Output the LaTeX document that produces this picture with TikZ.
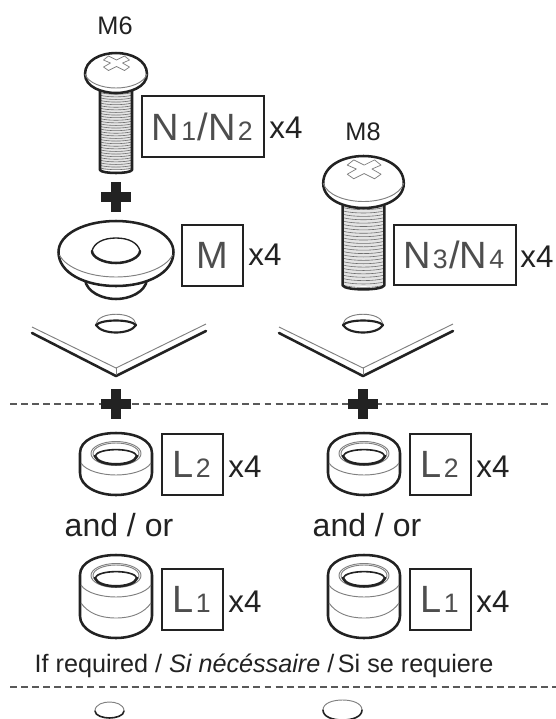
\documentclass[tikz,border=0pt]{standalone}
\usepackage{fontspec}
\setmainfont{Liberation Sans}
\definecolor{ink}{HTML}{222222}
\definecolor{thin}{HTML}{808080}
\newcommand{\fsz}[1]{\fontsize{#1}{#1}\selectfont}
\newcommand{\sublab}[1]{\kern1.6pt{\fsz{20pt}#1}\kern1.2pt}
\tikzset{
  heavy/.style={draw=ink,line width=1.9pt,line cap=round,line join=round},
  fine/.style={draw=thin,line width=.7pt},
  thread/.style={draw=ink!65,line width=.45pt},
  tag/.style={draw=ink,line width=1.5pt,text=ink!80,inner sep=0pt,font=\fsz{28.5pt},anchor=center},
  qty/.style={text=ink,font=\fsz{23.5pt},inner sep=0pt},
  sizelab/.style={text=ink,font=\fsz{19pt},inner sep=0pt},
  andor/.style={text=ink,font=\fsz{24pt},inner sep=0pt},
  note/.style={text=ink,font=\fsz{18.9pt},inner sep=0pt},
  sep/.style={draw=ink!75,line width=.85pt,dash pattern=on 5.2pt off 3.1pt},
}
% screw: centre x, top y, head scale, shaft length
\newcommand{\myscrew}[4]{%
\begin{scope}[shift={(#1,#2)},scale=#3]
  \pgfmathsetmacro{\len}{#4/#3}
  \fill[ink!12] (-16,38) rectangle (16,{40+\len-5});
  \foreach \t in {2.6,5.2,...,\len}{
    \pgfmathsetmacro{\yy}{40+\t-3}
    \draw[thread] (-16,\yy) .. controls (-8,\yy+2.2) and (8,\yy+2.2) .. (16,\yy);
  }
  \draw[heavy] (-16,38) -- (-16,{40+\len-5}) .. controls (-14,{40+\len-1}) and (14,{40+\len-1}) .. (16,{40+\len-5}) -- (16,38);
  \path[heavy,fill=white] (-31,21) .. controls (-31,7) and (-15,0) .. (0,0) .. controls (15,0) and (31,7) .. (31,21)
     .. controls (31,34) and (14,40) .. (0,40) .. controls (-14,40) and (-31,34) .. (-31,21) -- cycle;
  \draw[fine] (-31,21) .. controls (-28,30) and (-14,35) .. (0,35) .. controls (14,35) and (28,30) .. (31,21);
  \draw[fine,line width=.55pt,line join=round,shift={(0.5,10)}] (-13,-3) -- (-8,-7) -- (0,-3) -- (8,-7) -- (13,-3) -- (6,0) -- (13,4) -- (8,7.5) -- (0,3.5) -- (-8,7.5) -- (-13,4) -- (-6,0) -- cycle;
\end{scope}}
% bent plate with its hole: apex x
\newcommand{\myplate}[1]{%
\begin{scope}[shift={(#1,0)}]
  \draw[fine] (-84,327) -- (0,368) -- (90,324);
  \draw[heavy] (-84,333) -- (0,376) -- (90,331);
  \draw[fine] (0,368) -- (0,375);
  \draw[fine] (-20,324) .. controls (-18,311) and (18,311) .. (20,324);
  \draw[heavy,line width=1.6pt] (-20,325) .. controls (-14,319) and (14,319) .. (20,325) .. controls (14,335) and (-14,335) .. (-20,325) -- cycle;
\end{scope}}
\newcommand{\myplus}[2]{%
  \fill[ink] (#1-15,#2-5) rectangle (#1+15,#2+5);
  \fill[ink] (#1-5,#2-15) rectangle (#1+5,#2+15);}
% bearing ring: centre x, top y, body height below the top face's centre
\newcommand{\myring}[3]{%
\begin{scope}[shift={(#1,#2)}]
  \path[heavy,fill=white] (-36,20) .. controls (-36,7) and (-19,0) .. (0,0) .. controls (19,0) and (36,7) .. (36,20)
     -- (36,{20+#3}) .. controls (36,{33+#3}) and (19,{42+#3}) .. (0,{42+#3}) .. controls (-19,{42+#3}) and (-36,{33+#3}) .. (-36,{20+#3}) -- cycle;
  \draw[fine] (-35,30) .. controls (-30,38) and (-14,42) .. (0,42) .. controls (14,42) and (30,38) .. (35,30);
  \draw[fine] (0,20.5) ellipse [x radius=25,y radius=12];
  \draw[fine] (0,20.5) ellipse [x radius=23,y radius=10.5];
  \draw[draw=ink,line width=1.2pt] (-21,23) .. controls (-18,14.5) and (18,14.5) .. (21,23);
  \draw[heavy] (-21,23) .. controls (-18,34) and (18,34) .. (21,23);
\end{scope}}
\begin{document}
\begin{tikzpicture}[x=.75pt,y=-.75pt]
\useasboundingbox (0,0) rectangle (556,719);
\fill[white] (0,0) rectangle (556,719);

% separators
\coordinate (sepAl) at (10,404); \coordinate (sepAr) at (548,404);
\coordinate (sepBl) at (10,687); \coordinate (sepBr) at (556,687);
\draw[sep] (sepAl) -- (sepAr);
\draw[sep] (sepBl) -- (sepBr);

% left column
\node[sizelab] (m6) at (115,26) {M6};
\myscrew{116}{53}{1}{82}
\node[tag,minimum width=91.5pt,minimum height=45.5pt] (n12) at (203,126.5) {N\sublab{1}/N\sublab{2}};
\node[qty] (q1) at (286,128) {x4};
\myplus{116}{197}

% flange washer
\draw[heavy] (85,280) .. controls (87,292) and (102,299) .. (116,299) .. controls (130,299) and (145,292) .. (147,280);
\path[heavy,fill=white] (58.5,252) .. controls (58.5,234) and (85,221) .. (116,221) .. controls (147,221) and (173.5,234) .. (173.5,252)
   .. controls (173.5,273) and (147,286) .. (116,286) .. controls (85,286) and (58.5,273) .. (58.5,252) -- cycle;
\draw[fine] (59.5,255) .. controls (66,268) and (90,277) .. (116,277) .. controls (142,277) and (166,268) .. (172.5,255);
\draw[draw=ink,line width=1pt] (92,251) .. controls (94,243) and (103,238) .. (116,238) .. controls (129,238) and (138,243) .. (140,251);
\draw[heavy] (92,251) .. controls (92,257) and (103,263) .. (116,263) .. controls (129,263) and (140,257) .. (140,251);
\node[tag,minimum width=45.5pt,minimum height=45.5pt] (mtag) at (212.5,255.5) {M};
\node[qty] (q2) at (265,255) {x4};

\myplate{116}
\myplus{116}{404}

\myring{116}{433}{20}
\node[tag,minimum width=45.5pt,minimum height=45.5pt] (l2a) at (192.5,464.5) {L\sublab{2}};
\node[qty] (q3) at (245,467) {x4};
\node[andor] (ao1) at (119,525) {and / or};
\myring{116}{555}{41}
\draw[fine] (81,603) .. controls (88,613) and (100,618) .. (116,618) .. controls (132,618) and (144,613) .. (151,603);
\node[tag,minimum width=45.5pt,minimum height=45.5pt] (l1a) at (192.5,599.5) {L\sublab{1}};
\node[qty] (q4) at (245,602) {x4};

% right column
\node[sizelab] (m8) at (363,132) {M8};
\myscrew{363.5}{156}{1.3}{84}
\node[tag,minimum width=91.5pt,minimum height=45.5pt] (n34) at (454.5,255) {N\sublab{3}/N\sublab{4}};
\node[qty] (q5) at (537,257) {x4};

\myplate{363}
\myplus{363}{404}

\myring{364}{433}{20}
\node[tag,minimum width=45.5pt,minimum height=45.5pt] (l2b) at (440.5,464.5) {L\sublab{2}};
\node[qty] (q6) at (493,467) {x4};
\node[andor] (ao2) at (367,525) {and / or};
\myring{364}{555}{41}
\draw[fine] (329,603) .. controls (336,613) and (348,618) .. (364,618) .. controls (380,618) and (392,613) .. (399,603);
\node[tag,minimum width=45.5pt,minimum height=45.5pt] (l1b) at (440.5,599.5) {L\sublab{1}};
\node[qty] (q7) at (493,602) {x4};

\node[note] (req) at (264,666) {If required / \textit{Si nécéssaire} /\kern2.6pt Si se requiere};

% bottom holes
\draw[heavy,line width=1.2pt] (95,711) .. controls (95,716) and (104,718) .. (109.5,718) .. controls (115,718) and (124,716) .. (124,711);
\draw[fine] (95,711) .. controls (95,704) and (104,702) .. (109.5,702) .. controls (115,702) and (124,704) .. (124,711);
\draw[heavy,line width=1.2pt] (323,710) .. controls (323,717) and (333,720) .. (342.5,720) .. controls (352,720) and (362,717) .. (362,710);
\draw[fine] (323,710) .. controls (323,703) and (333,700) .. (342.5,700) .. controls (352,700) and (362,703) .. (362,710);
\end{tikzpicture}
\end{document}
